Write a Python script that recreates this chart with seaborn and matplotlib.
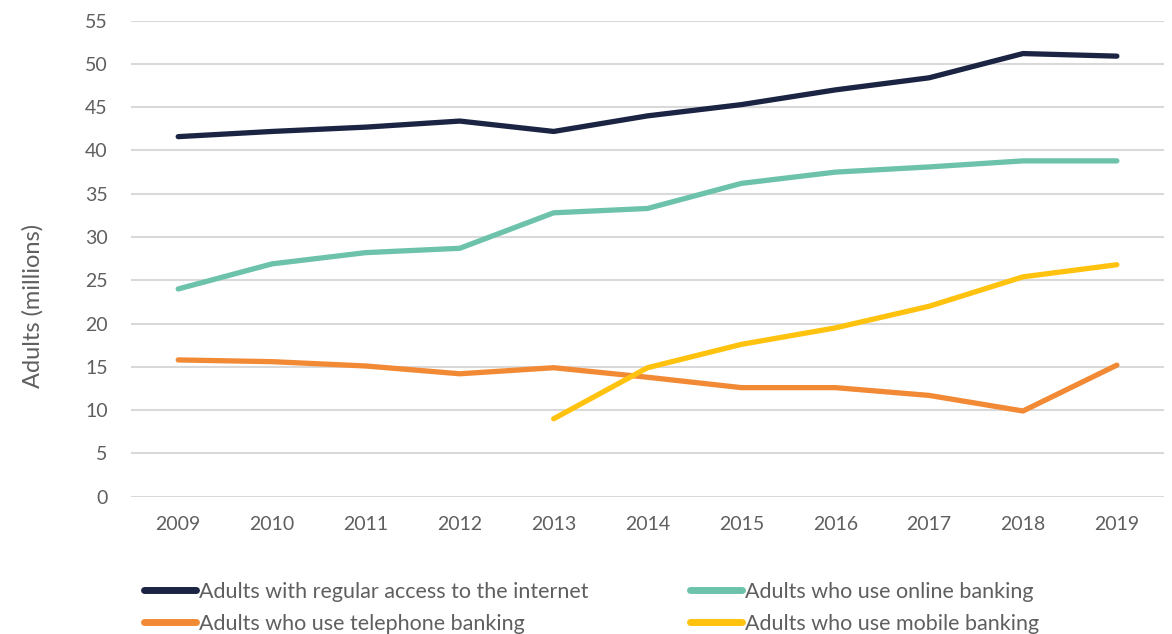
import pandas as pd
import numpy as np
import seaborn as sns
import matplotlib.pyplot as plt

# Values (millions of adults)
years = [2009, 2010, 2011, 2012, 2013, 2014, 2015, 2016, 2017, 2018, 2019]
internet = [41.6, 42.2, 42.7, 43.4, 42.2, 44.0, 45.3, 47.0, 48.4, 51.2, 50.9]
online = [24.0, 26.9, 28.2, 28.7, 32.8, 33.3, 36.2, 37.5, 38.1, 38.8, 38.8]
telephone = [15.8, 15.6, 15.1, 14.2, 14.9, 13.8, 12.6, 12.6, 11.7, 9.9, 15.2]
mobile = [np.nan, np.nan, np.nan, np.nan, 9.0, 14.9, 17.6, 19.5, 22.0, 25.4, 26.8]

labels = ['Adults with regular access to the internet',
          'Adults who use online banking',
          'Adults who use telephone banking',
          'Adults who use mobile banking']
colors = ['#1b2443', '#6cc2ab', '#f28a35', '#ffc20e']

df = pd.DataFrame({'Year': years, labels[0]: internet, labels[1]: online,
                   labels[2]: telephone, labels[3]: mobile})
long = df.melt(id_vars='Year', var_name='Series', value_name='Value').dropna()

sns.set_style('white')
plt.rcParams['font.family'] = ['Lato', 'DejaVu Sans']
txt = '#5f5f5f'

fig = plt.figure(figsize=(11.72, 6.34), dpi=100)
ax = fig.add_axes([0.112, 0.2166, 0.881, 0.7508])

sns.lineplot(data=long, x='Year', y='Value', hue='Series', hue_order=labels,
             palette=colors, linewidth=3.8, solid_capstyle='round', ax=ax,
             legend=False)

ax.set_xlim(2008.5, 2019.5)
ax.set_ylim(0, 55)
ax.set_xticks(years)
ax.set_yticks(range(0, 56, 5))
ax.yaxis.grid(True, color='#d9d9d9', linewidth=1.5)
ax.set_axisbelow(True)
sns.despine(ax=ax, left=True, bottom=True)
ax.tick_params(axis='both', length=0, labelsize=14, colors=txt)
ax.tick_params(axis='x', pad=14)
ax.tick_params(axis='y', pad=17)
ax.set_xlabel('')
ax.set_ylabel('Adults (millions)', fontsize=17, color=txt)
ax.yaxis.set_label_coords(-0.085, 0.40)

handles = [plt.Line2D([], [], color=c, linewidth=5, solid_capstyle='round') for c in colors]
order = [0, 2, 1, 3]
fig.legend([handles[i] for i in order], [labels[i] for i in order],
           ncol=2, loc='lower left', bbox_to_anchor=(0.1067, -0.030),
           frameon=False, fontsize=15.5, handlelength=2.4, handletextpad=0.15,
           columnspacing=4.7, labelspacing=0.55, labelcolor=txt)

fig.savefig('out.png', dpi=100)
